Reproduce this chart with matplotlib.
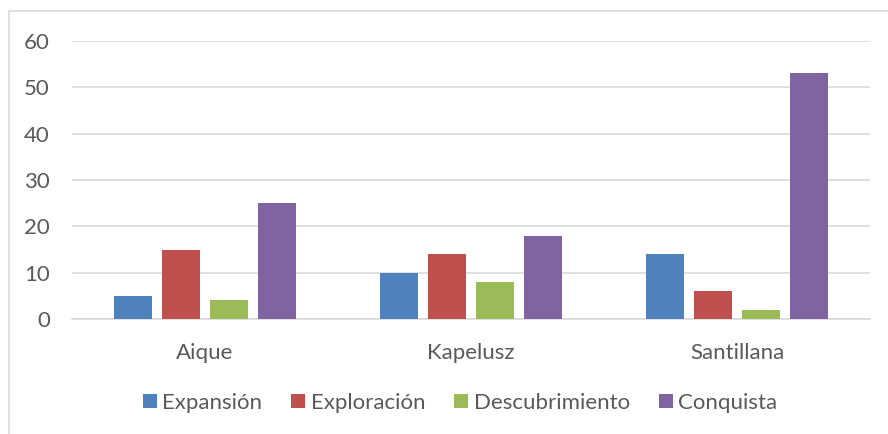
import matplotlib
matplotlib.use("Agg")
import matplotlib.pyplot as plt
import numpy as np
from matplotlib.patches import Rectangle, Patch

categories = ["Aique", "Kapelusz", "Santillana"]
series_names = ["Expansión", "Exploración", "Descubrimiento", "Conquista"]
expansion = [5, 10, 14]
exploracion = [15, 14, 6]
descubrimiento = [4, 8, 2]
conquista = [25, 18, 53]
colors = ["#4f81bd", "#c0504d", "#9bbb59", "#8064a2"]
yticks = [0, 10, 20, 30, 40, 50, 60]

plt.rcParams['font.family'] = ['Lato', 'DejaVu Sans']
W, H = 888, 434
fig = plt.figure(figsize=(W/100, H/100), dpi=100)

# chart border (top and left visible)
fig.patches.append(Rectangle((8.5/W, -0.1), 1.2, 1.1 - 11.5/H, transform=fig.transFigure,
                             fill=False, edgecolor="#d9d9d9", linewidth=1.2, zorder=0))

ax = fig.add_axes([72/W, 1 - 319/H, (870-72)/W, (319-41)/H])
x = np.arange(len(categories))
step = 48/266
bw = 38/266
all_series = [expansion, exploracion, descubrimiento, conquista]
for i, (vals, c, name) in enumerate(zip(all_series, colors, series_names)):
    ax.bar(x + (i - 1.5)*step, vals, width=bw, color=c, label=name, zorder=3)

ax.set_xlim(-0.5, 2.5)
ax.set_ylim(0, 60)
ax.set_yticks(yticks)
ax.yaxis.grid(True, color="#d9d9d9", linewidth=1.2, zorder=0)
ax.set_axisbelow(True)
for s in ["top", "right", "left"]:
    ax.spines[s].set_visible(False)
ax.spines["bottom"].set_color("#d9d9d9")
ax.spines["bottom"].set_linewidth(1.2)
ax.tick_params(axis="both", length=0, labelsize=16, colors="#595959")
ax.tick_params(axis="y", pad=16)
ax.tick_params(axis="x", pad=17)
ax.set_xticks(x)
ax.set_xticklabels(categories)

handles = [Patch(facecolor=c, edgecolor="none") for c in colors]
fig.legend(handles, series_names, loc="center", bbox_to_anchor=(460/W, 1 - 403/H), ncol=4,
           frameon=False, fontsize=16, labelcolor="#595959", handlelength=0.63, handleheight=0.63,
           handletextpad=0.25, columnspacing=1.3)

fig.savefig("out.png", dpi=100)
